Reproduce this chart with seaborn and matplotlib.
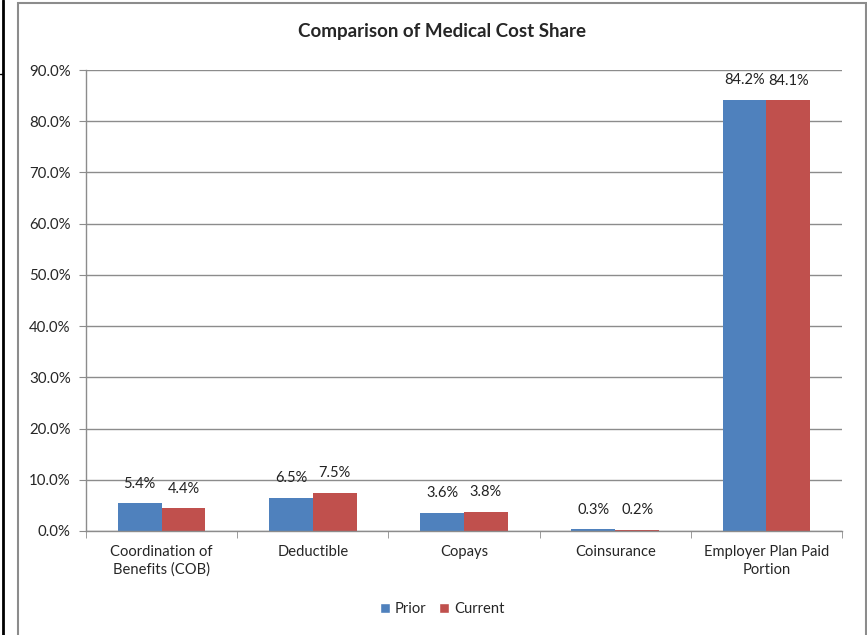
import matplotlib
matplotlib.use('Agg')

import pandas as pd
import matplotlib.pyplot as plt
import seaborn as sns
from matplotlib.patches import Rectangle, Patch
from matplotlib.lines import Line2D
from matplotlib.ticker import FuncFormatter, FixedLocator

categories = ["Coordination of\nBenefits (COB)", "Deductible", "Copays",
              "Coinsurance", "Employer Plan Paid\nPortion"]
prior = [5.4, 6.5, 3.6, 0.3, 84.2]
current = [4.4, 7.5, 3.8, 0.2, 84.1]
series = ["Prior", "Current"]
colors = ["#4F81BD", "#C0504D"]

df = pd.DataFrame({
    "category": categories * 2,
    "share": prior + current,
    "series": [series[0]] * len(prior) + [series[1]] * len(current),
})

sns.set_style("white")
plt.rcParams['font.family'] = ['Lato', 'DejaVu Sans']

fig = plt.figure(figsize=(8.67, 6.35), dpi=100)
ax = fig.add_axes([86 / 867, 1 - 531 / 635, 756 / 867, 461 / 635])

sns.barplot(data=df, x="category", y="share", hue="series", palette=colors,
            width=0.58, saturation=1, ax=ax, legend=False, errorbar=None,
            linewidth=0)

for cont in ax.containers:
    ax.bar_label(cont, fmt="%.1f%%", padding=9, fontsize=10.5, color="#222222")

ax.set_ylim(0, 90)
ax.set_xlim(-0.5, 4.5)
ax.set_yticks(range(0, 91, 10))
ax.yaxis.set_major_formatter(FuncFormatter(lambda v, p: f"{v:.1f}%"))
ax.yaxis.grid(True, color="#8c8c8c", linewidth=1)
ax.set_axisbelow(True)
ax.set_xlabel("")
ax.set_ylabel("")

for s in ["top", "right"]:
    ax.spines[s].set_visible(False)
for s in ["left", "bottom"]:
    ax.spines[s].set_color("#8c8c8c")
    ax.spines[s].set_linewidth(1)

ax.tick_params(axis="y", which="major", left=True, length=5, color="#8c8c8c",
               labelsize=10.8, pad=6)
ax.tick_params(axis="x", which="major", length=0, labelsize=10.6, pad=10)
ax.xaxis.set_minor_locator(FixedLocator([i - 0.5 for i in range(len(categories) + 1)]))
ax.tick_params(axis="x", which="minor", bottom=True, length=5, color="#8c8c8c")
for lab in ax.get_xticklabels():
    lab.set_linespacing(1.35)

# chart frame and title
fig.patches.append(Rectangle((18 / 867, -0.01), 848 / 867, 1 - 3 / 635 + 0.01,
                             transform=fig.transFigure, fill=False,
                             edgecolor="#8c8c8c", linewidth=1.5))
fig.lines.append(Line2D([3 / 867, 3 / 867], [0, 1], transform=fig.transFigure,
                        color="black", linewidth=2))
fig.lines.append(Line2D([0, 3 / 867], [1 - 74 / 635, 1 - 74 / 635],
                        transform=fig.transFigure, color="black", linewidth=1))
fig.text(442 / 867, 1 - 32 / 635, "Comparison of Medical Cost Share",
         ha="center", va="center", fontsize=13.5, fontweight="bold")

handles = [Patch(facecolor=c, label=s) for c, s in zip(colors, series)]
fig.legend(handles=handles, loc="center", bbox_to_anchor=(442 / 867, 1 - 609 / 635),
           ncol=2, frameon=False, fontsize=10.6, handlelength=0.7, handleheight=0.7,
           handletextpad=0.3, columnspacing=0.9)

fig.savefig("out.png", dpi=100)
